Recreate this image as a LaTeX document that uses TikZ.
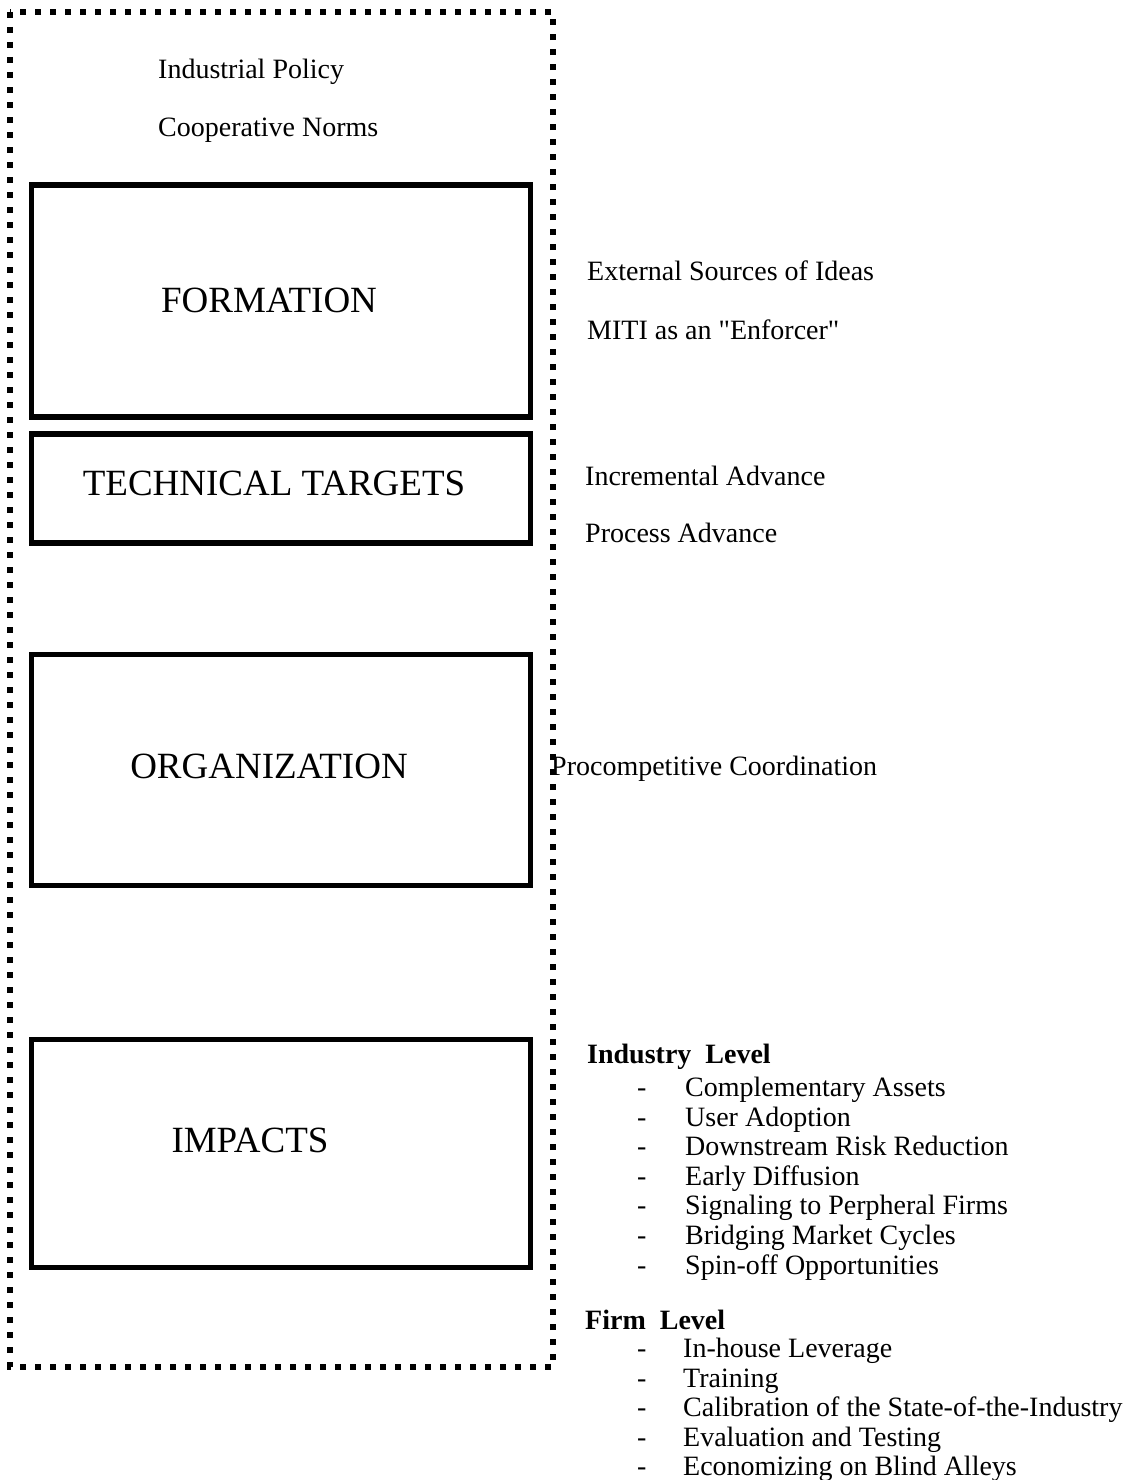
\documentclass[tikz,border=0pt]{standalone}
\usepackage{fontspec}
\setmainfont{Liberation Serif}
\usetikzlibrary{positioning}

\begin{document}
\begin{tikzpicture}[x=1pt, y=-1pt,
  stagebox/.style={rectangle, draw=black, line width=5.5pt, minimum width=499pt, inner sep=0pt},
  stagelabel/.style={inner sep=0pt, font=\fontsize{37}{40}\selectfont},
  note/.style={anchor=base west, inner sep=0pt, font=\fontsize{28}{30}\selectfont},
  levelhead/.style={inner sep=0pt, text height=20pt, text depth=7.2pt, font=\fontsize{28}{30}\selectfont\bfseries},
  listitem/.style={inner sep=0pt, text height=20pt, text depth=7.2pt, font=\fontsize{28}{30}\selectfont},
  frame/.style={draw=black, line width=6pt, dash pattern=on 6pt off 9pt}
]
  \useasboundingbox (0,0) rectangle (1132,1480);

  % dotted frame round the stages
  \draw[frame] (10,12) rectangle (553,1367);

  \node[note] (policy) at (158,78) {Industrial Policy};
  \node[note] (norms) at (158,136) {Cooperative Norms};

  \node[stagebox, minimum height=232pt] (formation) at (281,301) {};
  \node[stagebox, minimum height=109pt] (targets) at (281,488.5) {};
  \node[stagebox, minimum height=231pt] (organization) at (281,770) {};
  \node[stagebox, minimum height=228pt] (impacts) at (281,1153.5) {};

  \node[stagelabel] (formationlbl) at ([xshift=-12pt,yshift=1pt]formation.center) {FORMATION};
  \node[stagelabel] (targetslbl) at ([xshift=-7pt,yshift=5pt]targets.center) {TECHNICAL TARGETS};
  \node[stagelabel] (organizationlbl) at ([xshift=-12pt,yshift=4pt]organization.center) {ORGANIZATION};
  \node[stagelabel] (impactslbl) at ([xshift=-31pt,yshift=13pt]impacts.center) {IMPACTS};

  % remarks beside the stages
  \node[note] (ideas) at (587,280) {External Sources of Ideas};
  \node[note] (miti) at (587,339) {MITI as an \textquotedbl Enforcer\textquotedbl};
  \node[note] (incremental) at (585,485) {Incremental Advance};
  \node[note] (process) at (585,542) {Process Advance};
  \node[note] (coord) at (551,775) {Procompetitive Coordination};

  \node[levelhead, anchor=base west] (industry) at (587,1063) {Industry\ \ Level};
  \node[listitem, below=5.8pt of industry.south west, anchor=north west, xshift=50pt] (ind1) {\makebox[48pt][l]{-}Complementary Assets};
  \node[listitem, below=2pt of ind1.south west, anchor=north west] (ind2) {\makebox[48pt][l]{-}User Adoption};
  \node[listitem, below=2pt of ind2.south west, anchor=north west] (ind3) {\makebox[48pt][l]{-}Downstream Risk Reduction};
  \node[listitem, below=2pt of ind3.south west, anchor=north west] (ind4) {\makebox[48pt][l]{-}Early Diffusion};
  \node[listitem, below=2pt of ind4.south west, anchor=north west] (ind5) {\makebox[48pt][l]{-}Signaling to Perpheral Firms};
  \node[listitem, below=2pt of ind5.south west, anchor=north west] (ind6) {\makebox[48pt][l]{-}Bridging Market Cycles};
  \node[listitem, below=2pt of ind6.south west, anchor=north west] (ind7) {\makebox[48pt][l]{-}Spin-off Opportunities};

  \node[levelhead, anchor=base west] (firm) at (585,1329) {Firm\ \ Level};
  \node[listitem, below=0.8pt of firm.south west, anchor=north west, xshift=52pt] (firm1) {\makebox[46pt][l]{-}In-house Leverage};
  \node[listitem, below=2pt of firm1.south west, anchor=north west] (firm2) {\makebox[46pt][l]{-}Training};
  \node[listitem, below=2pt of firm2.south west, anchor=north west] (firm3) {\makebox[46pt][l]{-}Calibration of the State-of-the-Industry};
  \node[listitem, below=2pt of firm3.south west, anchor=north west] (firm4) {\makebox[46pt][l]{-}Evaluation and Testing};
  \node[listitem, below=2pt of firm4.south west, anchor=north west] (firm5) {\makebox[46pt][l]{-}Economizing on Blind Alleys};
\end{tikzpicture}
\end{document}
